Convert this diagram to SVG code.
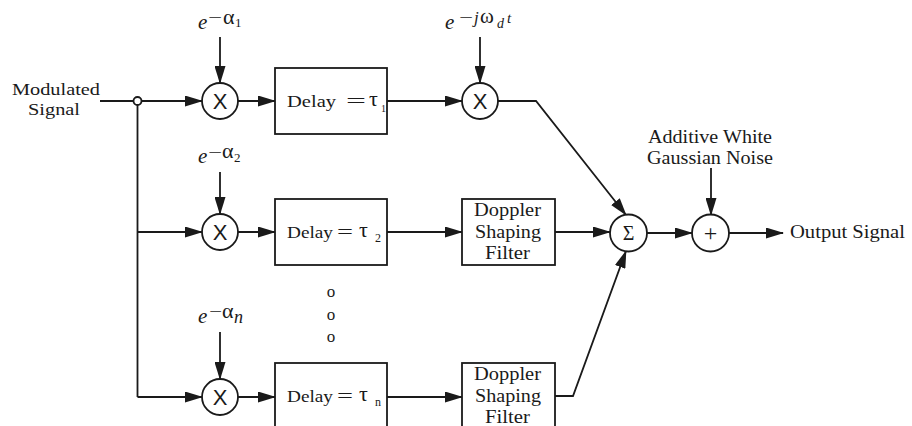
<svg xmlns="http://www.w3.org/2000/svg" width="912" height="426" viewBox="0 0 912 426">
  <defs>
    <marker id="arrow" viewBox="0 0 18 11" refX="17" refY="5.5" markerWidth="18" markerHeight="11" markerUnits="userSpaceOnUse" orient="auto">
      <path d="M0,0 L18,5.5 L0,11 Z" fill="#1a1a1a"/>
    </marker>
  </defs>
  <style>
    .ln { fill: none; stroke: #1a1a1a; stroke-width: 1.8; }
    .ar { fill: none; stroke: #1a1a1a; stroke-width: 1.8; marker-end: url(#arrow); }
    .box { fill: #fff; stroke: #1a1a1a; stroke-width: 1.8; }
    .op { fill: #fff; stroke: #1a1a1a; stroke-width: 1.8; }
    .t { font-family: "Liberation Serif", "Times New Roman", serif; font-size: 17px; fill: #1a1a1a; }
    .tl { font-family: "Liberation Serif", "Times New Roman", serif; font-size: 18px; fill: #1a1a1a; }
    .m { font-family: "Liberation Serif", "Times New Roman", serif; font-weight: normal; fill: #1a1a1a; }
    .i { font-style: italic; }
    .x { font-family: "Liberation Sans", Arial, sans-serif; font-size: 22px; fill: #1a1a1a; text-anchor: middle; }
  </style>

  <rect width="912" height="426" fill="#fff"/>

  <!-- connectors -->
  <g id="connectors">
    <line class="ln" x1="100" y1="101" x2="133.5" y2="101"/>
    <line class="ar" x1="141.5" y1="101" x2="202" y2="101"/>
    <polyline class="ln" points="137.5,105 137.5,397"/>
    <line class="ar" x1="137.5" y1="232" x2="202" y2="232"/>
    <line class="ar" x1="137.5" y1="397" x2="202" y2="397"/>

    <line class="ar" x1="220" y1="37" x2="220" y2="83"/>
    <line class="ar" x1="220" y1="172" x2="220" y2="214"/>
    <line class="ar" x1="220" y1="332" x2="220" y2="379"/>

    <line class="ar" x1="238" y1="101" x2="275" y2="101"/>
    <line class="ar" x1="238" y1="232" x2="275" y2="232"/>
    <line class="ar" x1="238" y1="397" x2="275" y2="397"/>

    <line class="ar" x1="387" y1="101" x2="462" y2="101"/>
    <line class="ar" x1="480" y1="37" x2="480" y2="83"/>
    <polyline class="ar" points="498,101 536,101 626,215"/>

    <line class="ar" x1="387" y1="232" x2="462" y2="232"/>
    <line class="ar" x1="387" y1="397" x2="462" y2="397"/>

    <line class="ar" x1="555" y1="232" x2="610" y2="232"/>
    <polyline class="ar" points="555,396 573,396 626,251"/>

    <line class="ar" x1="647" y1="233" x2="692" y2="233"/>
    <line class="ar" x1="711" y1="168" x2="711" y2="215"/>
    <line class="ar" x1="729" y1="233" x2="783" y2="233"/>
  </g>

  <!-- input -->
  <g id="input">
    <text class="t" x="12" y="95" textLength="88" lengthAdjust="spacingAndGlyphs">Modulated</text>
    <text class="t" x="28" y="115" textLength="52" lengthAdjust="spacingAndGlyphs">Signal</text>
    <circle class="op" cx="137.5" cy="101" r="4"/>
  </g>

  <!-- path 1 -->
  <g id="gain1">
    <text class="m i" x="198" y="29" font-size="21">e</text>
    <text class="m" x="208" y="23" font-size="17" textLength="14" lengthAdjust="spacingAndGlyphs">−</text>
    <text class="m" x="223" y="24" font-size="22">α</text>
    <text class="m" x="235" y="27" font-size="13">1</text>
  </g>
  <g id="mult1">
    <circle class="op" cx="220" cy="101" r="18"/>
    <text class="x" x="220" y="108.5">X</text>
  </g>
  <g id="delay1">
    <rect class="box" x="275" y="68" width="112" height="66"/>
    <text class="t" x="287" y="107" textLength="49" lengthAdjust="spacingAndGlyphs">Delay</text>
    <text class="m" x="346" y="107" font-size="18" textLength="20" lengthAdjust="spacingAndGlyphs">=</text>
    <text class="m" x="369" y="106" font-size="22">τ</text>
    <text class="m" x="381" y="112" font-size="10">1</text>
  </g>
  <g id="doppler-mix">
    <text class="m i" x="445" y="29" font-size="21">e</text>
    <text class="m" x="459" y="23" font-size="17" textLength="14" lengthAdjust="spacingAndGlyphs">−</text>
    <text class="m i" x="474" y="23" font-size="17">j</text>
    <text class="m" x="480" y="23" font-size="21">ω</text>
    <text class="m i" x="497" y="28" font-size="14">d</text>
    <text class="m i" x="507" y="23" font-size="15">t</text>
  </g>
  <g id="mult-doppler">
    <circle class="op" cx="480" cy="101" r="18"/>
    <text class="x" x="480" y="108.5">X</text>
  </g>

  <!-- path 2 -->
  <g id="gain2">
    <text class="m i" x="198" y="163" font-size="21">e</text>
    <text class="m" x="208" y="158" font-size="17" textLength="14" lengthAdjust="spacingAndGlyphs">−</text>
    <text class="m" x="222" y="158" font-size="22">α</text>
    <text class="m" x="234" y="162" font-size="13">2</text>
  </g>
  <g id="mult2">
    <circle class="op" cx="220" cy="232" r="18"/>
    <text class="x" x="220" y="239.5">X</text>
  </g>
  <g id="delay2">
    <rect class="box" x="275" y="199" width="112" height="66"/>
    <text class="t" x="287" y="238" textLength="46" lengthAdjust="spacingAndGlyphs">Delay</text>
    <text class="m" x="337" y="238" font-size="18" textLength="16" lengthAdjust="spacingAndGlyphs">=</text>
    <text class="m" x="359" y="237" font-size="22">τ</text>
    <text class="m" x="375" y="242" font-size="12">2</text>
  </g>
  <g id="filter2">
    <rect class="box" x="462" y="199" width="93" height="66"/>
    <text class="tl" x="474" y="216" textLength="67" lengthAdjust="spacingAndGlyphs">Doppler</text>
    <text class="tl" x="475" y="238" textLength="66" lengthAdjust="spacingAndGlyphs">Shaping</text>
    <text class="tl" x="485" y="259" textLength="45" lengthAdjust="spacingAndGlyphs">Filter</text>
  </g>

  <!-- ellipsis -->
  <g id="ellipsis">
    <text class="m" x="331" y="297" font-size="17" text-anchor="middle">o</text>
    <text class="m" x="331" y="320" font-size="17" text-anchor="middle">o</text>
    <text class="m" x="331" y="342" font-size="17" text-anchor="middle">o</text>
  </g>

  <!-- path n -->
  <g id="gainn">
    <text class="m i" x="198" y="323" font-size="21">e</text>
    <text class="m" x="209" y="317" font-size="17" textLength="13" lengthAdjust="spacingAndGlyphs">−</text>
    <text class="m" x="222" y="318" font-size="22">α</text>
    <text class="m i" x="234" y="323" font-size="18">n</text>
  </g>
  <g id="multn">
    <circle class="op" cx="220" cy="397" r="18"/>
    <text class="x" x="220" y="404.5">X</text>
  </g>
  <g id="delayn">
    <rect class="box" x="275" y="363" width="112" height="70"/>
    <text class="t" x="287" y="402" textLength="46" lengthAdjust="spacingAndGlyphs">Delay</text>
    <text class="m" x="337" y="402" font-size="18" textLength="16" lengthAdjust="spacingAndGlyphs">=</text>
    <text class="m" x="359" y="401" font-size="22">τ</text>
    <text class="m" x="375" y="406" font-size="12">n</text>
  </g>
  <g id="filtern">
    <rect class="box" x="462" y="363" width="93" height="70"/>
    <text class="tl" x="474" y="380" textLength="67" lengthAdjust="spacingAndGlyphs">Doppler</text>
    <text class="tl" x="475" y="402" textLength="66" lengthAdjust="spacingAndGlyphs">Shaping</text>
    <text class="tl" x="485" y="423" textLength="45" lengthAdjust="spacingAndGlyphs">Filter</text>
  </g>

  <!-- combiner and noise -->
  <g id="sum">
    <circle class="op" cx="628.5" cy="233" r="18.5"/>
    <text class="m" x="628.5" y="240" font-size="20" text-anchor="middle">Σ</text>
  </g>
  <g id="noise">
    <text class="tl" x="648" y="143" textLength="124" lengthAdjust="spacingAndGlyphs">Additive White</text>
    <text class="tl" x="647" y="164" textLength="126" lengthAdjust="spacingAndGlyphs">Gaussian Noise</text>
  </g>
  <g id="adder">
    <circle class="op" cx="710.5" cy="233" r="18.5"/>
    <text class="m" x="710.5" y="241" font-size="24" text-anchor="middle">+</text>
  </g>
  <g id="output">
    <text class="tl" x="790" y="238" textLength="115" lengthAdjust="spacingAndGlyphs">Output Signal</text>
  </g>
</svg>
